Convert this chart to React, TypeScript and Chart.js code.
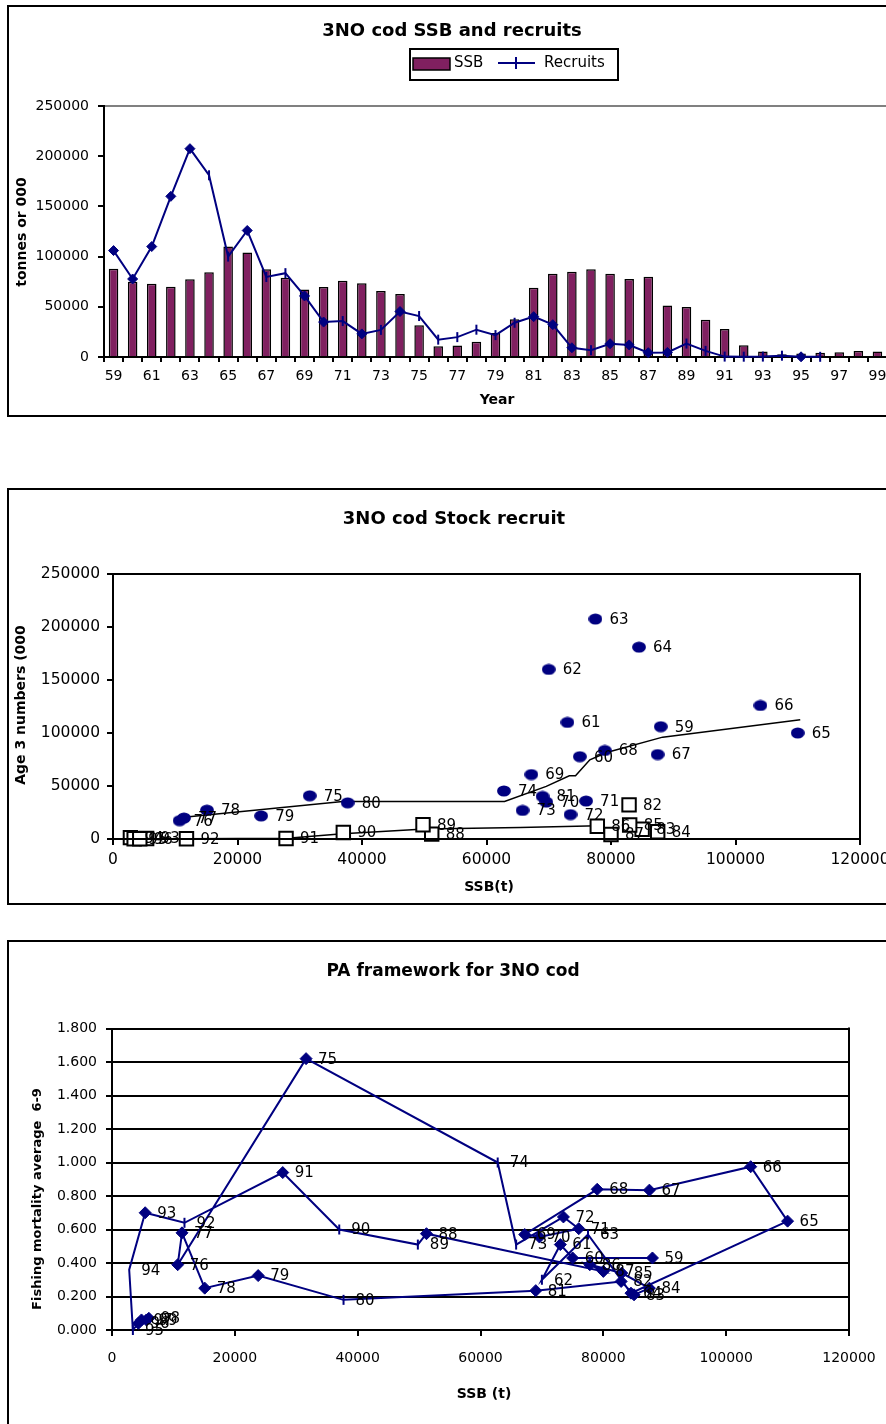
import React, { useEffect, useRef } from 'react';
import { Chart, registerables } from 'chart.js';

Chart.register(...registerables);

// ---------------- data ----------------
const YEARS = ['59','60','61','62','63','64','65','66','67','68','69','70','71','72','73','74','75','76','77','78','79','80','81','82','83','84','85','86','87','88','89','90','91','92','93','94','95','96','97','98','99'];

const SSB = [88000, 75000, 73000, 70000, 77500, 84500, 110000, 104000, 87500, 79000,
  67200, 69600, 76000, 73500, 65800, 62800, 31600, 10700, 11400, 15100,
  23800, 37700, 69000, 82900, 85000, 87500, 83000, 77800, 80000, 51200,
  49800, 37000, 27800, 11800, 5400, 2800, 3400, 4300, 4800, 6000, 5600];

const RECRUITS = [106000, 77700, 110000, 160000, 207500, 181000, 100000, 126000, 79700, 83500,
  60800, 34800, 35800, 23000, 27000, 45300, 40800, 17300, 19800, 27200,
  21800, 34100, 40200, 32200, 9200, 6800, 13200, 12000, 4300, 4600,
  13400, 6100, 400, 300, 400, 1300, 200, 200, null, null, null];

const F_AVG = [0.43, 0.43, 0.51, 0.30, 0.57, 0.22, 0.65, 0.975, 0.835, 0.84,
  0.57, 0.555, 0.605, 0.675, 0.51, 1.00, 1.62, 0.39, 0.58, 0.25,
  0.325, 0.18, 0.235, 0.29, 0.21, 0.25, 0.34, 0.39, 0.35, 0.575,
  0.51, 0.60, 0.94, 0.64, 0.70, 0.36, 0.00, 0.04, 0.06, 0.07, 0.06];

// stock-recruit fitted lines
const FIT_HIGH_SSB = [11400, 36900, 62900, 69600, 73300, 74300, 76600, 79300, 88300, 110400];
const FIT_HIGH_REC = [20500, 35400, 35400, 49600, 59600, 59600, 74700, 81600, 96100, 112400];
const FIT_LOW_SSB = [3000, 12000, 28000, 36900, 50100, 65400, 78000];
const FIT_LOW_REC = [0, 200, 800, 5000, 9400, 10900, 12500];

// tick labels
const Y1_TICKS = [0, 50000, 100000, 150000, 200000, 250000];
const Y2_TICKS = [0, 50000, 100000, 150000, 200000, 250000];
const X2_TICKS = [0, 20000, 40000, 60000, 80000, 100000, 120000];
const Y3_TICKS = [0, 0.2, 0.4, 0.6, 0.8, 1.0, 1.2, 1.4, 1.6, 1.8];
const X3_TICKS = [0, 20000, 40000, 60000, 80000, 100000, 120000];

// marker shapes as they appear (d = diamond, t = tick, n = none)
const REC_MARKERS = 'dddddttdttddtdtdttttttdddtddddttttttdttnnn';
const PA_MARKERS = 'dddttddddd' + 'ddddttdddd' + 'dtdddddddd' + 'ttdtdntddd' + 'd';

// ---------------- styling ----------------
const FONT = '"DejaVu Sans", "Liberation Sans", Arial, sans-serif';
const NAVY = '#000080';
const MAROON = '#802060';

type TextSpec = { text: string; x: number; y: number; font: string; align?: CanvasTextAlign; rotate?: boolean };

function drawText(ctx: CanvasRenderingContext2D, t: TextSpec) {
  ctx.save();
  ctx.font = t.font;
  ctx.fillStyle = '#000';
  ctx.textAlign = t.align || 'center';
  ctx.textBaseline = 'alphabetic';
  if (t.rotate) {
    ctx.translate(t.x, t.y);
    ctx.rotate(-Math.PI / 2);
    ctx.fillText(t.text, 0, 0);
  } else {
    ctx.fillText(t.text, t.x, t.y);
  }
  ctx.restore();
}

type DecorOpts = {
  texts: TextSpec[];
  plotBox?: boolean;
  plotRight?: boolean;
  legend?: boolean;
  labels?: Record<number, string[]>;
  labelFont?: string;
  labelDx?: number;
};

function decor(opts: DecorOpts) {
  return {
    id: 'decor',
    beforeDraw(chart: any) {
      const { ctx, width, height } = chart;
      ctx.save();
      ctx.fillStyle = '#fff';
      ctx.fillRect(0, 0, width, height);
      ctx.strokeStyle = '#000';
      ctx.lineWidth = 2;
      ctx.strokeRect(1, 1, width - 2, height - 2);
      ctx.restore();
    },
    afterDatasetsDraw(chart: any) {
      if (!opts.labels) return;
      const ctx = chart.ctx;
      ctx.save();
      ctx.font = opts.labelFont || `15px ${FONT}`;
      ctx.fillStyle = '#000';
      ctx.textAlign = 'left';
      ctx.textBaseline = 'middle';
      Object.keys(opts.labels).forEach((k) => {
        const di = Number(k);
        const labs = opts.labels![di];
        const meta = chart.getDatasetMeta(di);
        meta.data.forEach((el: any, i: number) => {
          const t = labs[i];
          if (!t) return;
          ctx.fillText(t, el.x + (opts.labelDx ?? 12), el.y + 1);
        });
      });
      ctx.restore();
    },
    afterDraw(chart: any) {
      const { ctx, chartArea: a } = chart;
      ctx.save();
      ctx.strokeStyle = '#000';
      ctx.lineWidth = 2;
      if (opts.plotBox) ctx.strokeRect(a.left, a.top, a.right - a.left, a.bottom - a.top);
      if (opts.plotRight) {
        ctx.beginPath();
        ctx.moveTo(a.right, a.top - 1);
        ctx.lineTo(a.right, a.bottom);
        ctx.stroke();
      }
      if (opts.legend) {
        ctx.strokeRect(403, 44, 208, 31);
        ctx.fillStyle = MAROON;
        ctx.fillRect(406, 53, 37, 12);
        ctx.lineWidth = 1.5;
        ctx.strokeRect(406, 53, 37, 12);
        ctx.fillStyle = '#000';
        ctx.font = `15px ${FONT}`;
        ctx.textAlign = 'left';
        ctx.fillText('SSB', 447, 62);
        ctx.fillText('Recruits', 537, 62);
        ctx.strokeStyle = NAVY;
        ctx.lineWidth = 2;
        ctx.beginPath();
        ctx.moveTo(491, 58);
        ctx.lineTo(528, 58);
        ctx.moveTo(509, 52);
        ctx.lineTo(509, 64);
        ctx.stroke();
      }
      ctx.restore();
      opts.texts.forEach((t) => drawText(ctx, t));
    },
  };
}

const styleOf = (c: string) => (c === 'd' ? 'rectRot' : c === 't' ? 'line' : 'circle');
const rotOf = (c: string) => (c === 't' ? 90 : 0);
const plain = (v: any) => String(v);

function tickFont(size: number) {
  return { family: FONT, size };
}

// ---------------- chart builders ----------------
function buildTop(canvas: HTMLCanvasElement) {
  const marks = YEARS.map((_, i) => REC_MARKERS[i] || 'n');
  return new Chart(canvas, {
    type: 'bar',
    data: {
      labels: YEARS,
      datasets: [
        {
          type: 'line',
          label: 'Recruits',
          data: RECRUITS,
          borderColor: NAVY,
          backgroundColor: NAVY,
          borderWidth: 2,
          pointStyle: marks.map(styleOf) as any,
          rotation: marks.map(rotOf) as any,
          pointRadius: marks.map((c) => (c === 'n' ? 0 : 5)) as any,
          pointBorderWidth: marks.map((c) => (c === 'd' ? 1 : 2)) as any,
          pointBorderColor: NAVY,
          pointBackgroundColor: NAVY,
          spanGaps: false,
          order: 0,
          clip: false as any,
        } as any,
        {
          type: 'bar',
          label: 'SSB',
          data: SSB,
          backgroundColor: MAROON,
          borderColor: '#000',
          borderWidth: 1.5,
          categoryPercentage: 1,
          barPercentage: 0.5,
          order: 1,
        } as any,
      ],
    },
    options: {
      animation: false,
      responsive: false,
      events: [],
      layout: { padding: { left: 7, right: 10, top: 101, bottom: 25 } },
      plugins: { legend: { display: false }, title: { display: false }, tooltip: { enabled: false } },
      scales: {
        x: {
          offset: true,
          grid: { offset: true, drawOnChartArea: false, color: '#000', lineWidth: 2, tickLength: 5 },
          border: { color: '#000', width: 2 },
          ticks: {
            autoSkip: false,
            maxRotation: 0,
            color: '#000',
            font: tickFont(14),
            padding: 6,
            callback: function (this: any, v: any, i: number) {
              return i % 2 === 0 ? this.getLabelForValue(v) : '';
            },
          },
          afterFit: (s: any) => {
            s.height = 35;
            s.paddingLeft = 0;
            s.paddingRight = 0;
          },
        },
        y: {
          min: 0,
          max: 250000,
          grid: {
            color: (c: any) => (c.tick && c.tick.value === 250000 ? '#808080' : 'rgba(0,0,0,0)'),
            tickColor: '#000',
            lineWidth: 2,
            tickLength: 6,
          },
          border: { color: '#000', width: 2 },
          ticks: { color: '#000', font: tickFont(14), padding: 9, callback: plain },
          afterBuildTicks: (s: any) => {
            s.ticks = Y1_TICKS.map((v) => ({ value: v }));
          },
          afterFit: (s: any) => {
            s.width = 90;
            s.paddingTop = 0;
            s.paddingBottom = 0;
          },
        },
      },
    },
    plugins: [
      decor({
        legend: true,
        texts: [
          { text: '3NO cod SSB and recruits', x: 445, y: 31, font: `bold 18px ${FONT}` },
          { text: 'Year', x: 490, y: 399, font: `bold 14px ${FONT}` },
          { text: 'tonnes or 000', x: 19, y: 227, font: `bold 14px ${FONT}`, rotate: true },
        ],
      }) as any,
    ],
  });
}

function makeEllipse() {
  const c = document.createElement('canvas');
  c.width = 14;
  c.height = 12;
  const g = c.getContext('2d')!;
  g.fillStyle = NAVY;
  g.beginPath();
  g.ellipse(7, 6, 6.9, 5.6, 0, 0, Math.PI * 2);
  g.fill();
  return c;
}

function buildStockRecruit(canvas: HTMLCanvasElement) {
  const circleIdx = YEARS.map((_, i) => i).filter((i) => i <= 22);
  const squareIdx = YEARS.map((_, i) => i).filter((i) => i > 22 && RECRUITS[i] !== null);
  const ellipse = makeEllipse();
  return new Chart(canvas, {
    type: 'scatter',
    data: {
      datasets: [
        {
          label: '82-96',
          data: squareIdx.map((i) => ({ x: SSB[i], y: RECRUITS[i] as number })),
          pointStyle: 'rect',
          pointRadius: 9.5,
          backgroundColor: '#fff',
          borderColor: '#000',
          borderWidth: 2,
          order: 0,
          clip: false as any,
        },
        {
          label: '59-81',
          data: circleIdx.map((i) => ({ x: SSB[i], y: RECRUITS[i] as number })),
          pointStyle: ellipse as any,
          pointRadius: 7,
          backgroundColor: NAVY,
          borderColor: NAVY,
          order: 1,
          clip: false as any,
        },
        {
          label: 'fit high',
          data: FIT_HIGH_SSB.map((x, i) => ({ x, y: FIT_HIGH_REC[i] })),
          showLine: true,
          pointRadius: 0,
          borderColor: '#000',
          borderWidth: 1.5,
          order: 2,
        },
        {
          label: 'fit low',
          data: FIT_LOW_SSB.map((x, i) => ({ x, y: FIT_LOW_REC[i] })),
          showLine: true,
          pointRadius: 0,
          borderColor: '#000',
          borderWidth: 1.5,
          order: 2,
        },
      ],
    },
    options: {
      animation: false,
      responsive: false,
      events: [],
      layout: { padding: { left: 11, right: 41, top: 86, bottom: 31 } },
      plugins: { legend: { display: false }, title: { display: false }, tooltip: { enabled: false } },
      scales: {
        x: {
          type: 'linear',
          min: 0,
          max: 120000,
          grid: { drawOnChartArea: false, color: '#000', lineWidth: 2, tickLength: 6 },
          border: { color: '#000', width: 2 },
          ticks: { color: '#000', font: tickFont(15.5), padding: 6, maxRotation: 0, callback: plain },
          afterBuildTicks: (s: any) => {
            s.ticks = X2_TICKS.map((v) => ({ value: v }));
          },
          afterFit: (s: any) => {
            s.height = 35;
            s.paddingLeft = 0;
            s.paddingRight = 0;
          },
        },
        y: {
          type: 'linear',
          min: 0,
          max: 250000,
          grid: { drawOnChartArea: false, color: '#000', lineWidth: 2, tickLength: 6 },
          border: { color: '#000', width: 2 },
          ticks: { color: '#000', font: tickFont(15.5), padding: 7, callback: plain },
          afterBuildTicks: (s: any) => {
            s.ticks = Y2_TICKS.map((v) => ({ value: v }));
          },
          afterFit: (s: any) => {
            s.width = 95;
            s.paddingTop = 0;
            s.paddingBottom = 0;
          },
        },
      },
    },
    plugins: [
      decor({
        plotBox: true,
        labels: {
          0: squareIdx.map((i) => YEARS[i]),
          1: circleIdx.map((i) => YEARS[i]),
        },
        labelDx: 14,
        labelFont: `15px ${FONT}`,
        texts: [
          { text: '3NO cod Stock recruit', x: 447, y: 36, font: `bold 18px ${FONT}` },
          { text: 'SSB(t)', x: 482, y: 403, font: `bold 14px ${FONT}` },
          { text: 'Age 3 numbers (000', x: 18, y: 217, font: `bold 14px ${FONT}`, rotate: true },
        ],
      }) as any,
    ],
  });
}

function buildPA(canvas: HTMLCanvasElement) {
  const marks = YEARS.map((_, i) => PA_MARKERS[i] || 'd');
  return new Chart(canvas, {
    type: 'scatter',
    data: {
      datasets: [
        {
          label: 'PA',
          data: YEARS.map((_, i) => ({ x: SSB[i], y: F_AVG[i] })),
          showLine: true,
          borderColor: NAVY,
          backgroundColor: NAVY,
          borderWidth: 2,
          pointStyle: marks.map(styleOf) as any,
          rotation: marks.map(rotOf) as any,
          pointRadius: marks.map((c) => (c === 'n' ? 0 : c === 'd' ? 6 : 5)) as any,
          pointBorderWidth: marks.map((c) => (c === 'd' ? 1 : 2)) as any,
          pointBorderColor: NAVY,
          pointBackgroundColor: NAVY,
          clip: false as any,
        } as any,
      ],
    },
    options: {
      animation: false,
      responsive: false,
      events: [],
      layout: { padding: { left: 10, right: 50, top: 88.5, bottom: 75 } },
      plugins: { legend: { display: false }, title: { display: false }, tooltip: { enabled: false } },
      scales: {
        x: {
          type: 'linear',
          min: 0,
          max: 120000,
          grid: { drawOnChartArea: false, color: '#000', lineWidth: 2, tickLength: 6 },
          border: { color: '#000', width: 2 },
          ticks: { color: '#000', font: tickFont(14), padding: 14, maxRotation: 0, callback: plain },
          afterBuildTicks: (s: any) => {
            s.ticks = X3_TICKS.map((v) => ({ value: v }));
          },
          afterFit: (s: any) => {
            s.height = 35;
            s.paddingLeft = 0;
            s.paddingRight = 0;
          },
        },
        y: {
          type: 'linear',
          min: 0,
          max: 1.8,
          grid: { color: '#000', lineWidth: 2, tickLength: 6 },
          border: { color: '#000', width: 2 },
          ticks: {
            color: '#000',
            font: tickFont(14),
            padding: 9,
            callback: (v: any) => Number(v).toFixed(3),
          },
          afterBuildTicks: (s: any) => {
            s.ticks = Y3_TICKS.map((v) => ({ value: v }));
          },
          afterFit: (s: any) => {
            s.width = 95;
            s.paddingTop = 0;
            s.paddingBottom = 0;
          },
        },
      },
    },
    plugins: [
      decor({
        plotRight: true,
        labels: { 0: YEARS },
        labelDx: 12,
        labelFont: `15px ${FONT}`,
        texts: [
          { text: 'PA framework for 3NO cod', x: 446, y: 36, font: `bold 17px ${FONT}` },
          { text: 'SSB (t)', x: 477, y: 458, font: `bold 14px ${FONT}` },
          { text: 'Fishing mortality average  6-9', x: 34, y: 259, font: `bold 13px ${FONT}`, rotate: true },
        ],
      }) as any,
    ],
  });
}

// ---------------- components ----------------
function ChartCanvas(props: { left: number; top: number; width: number; height: number; build: (c: HTMLCanvasElement) => Chart }) {
  const ref = useRef<HTMLCanvasElement>(null);
  useEffect(() => {
    const chart = props.build(ref.current!);
    return () => chart.destroy();
  }, []);
  return (
    <canvas
      ref={ref}
      width={props.width}
      height={props.height}
      style={{ position: 'absolute', left: props.left, top: props.top, width: props.width, height: props.height, display: 'block' }}
    />
  );
}

export default function App() {
  return (
    <div style={{ position: 'absolute', left: 0, top: 0, width: 886, height: 1424, overflow: 'hidden', background: '#fff' }}>
      <ChartCanvas left={7} top={5} width={890} height={412} build={buildTop} />
      <ChartCanvas left={7} top={488} width={894} height={417} build={buildStockRecruit} />
      <ChartCanvas left={7} top={940} width={892} height={500} build={buildPA} />
    </div>
  );
}
